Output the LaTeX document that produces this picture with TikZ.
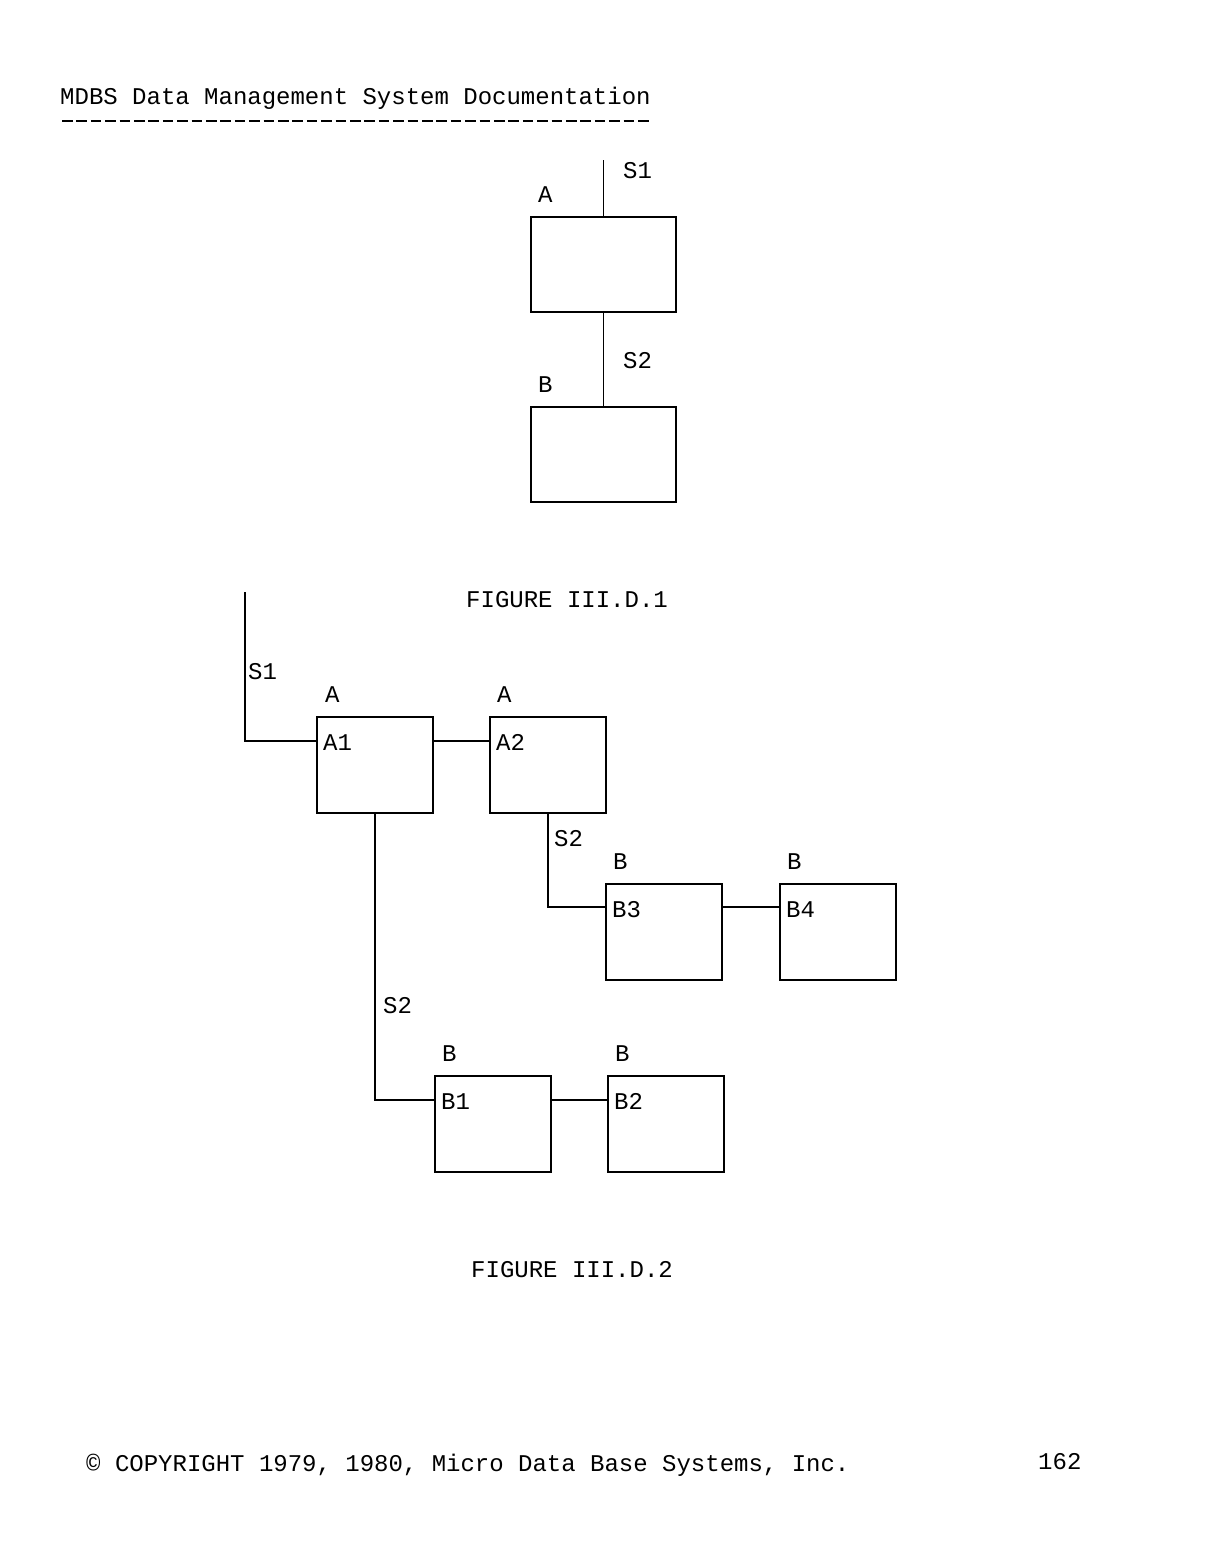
\documentclass[tikz,border=0pt]{standalone}
\usepackage{fontspec}
\setmainfont{Liberation Mono}
\usetikzlibrary{calc}
\begin{document}
\begin{tikzpicture}[x=1pt,y=-1pt,
  box/.style={draw,line width=1.6pt,minimum width=116pt,minimum height=96pt,inner sep=0pt},
  bigbox/.style={box,minimum width=145pt,minimum height=95pt},
  lbl/.style={anchor=base west,inner sep=0pt,font=\fontsize{24}{28}\selectfont},
  wire/.style={line width=1.6pt}]
\useasboundingbox (0,0) rectangle (1225,1567);

% header
\node[lbl] (hdr) at (60,104) {MDBS Data Management System Documentation};
\coordinate (hl) at (62,121);
\coordinate (hr) at (652,121);
\draw[dash pattern=on 10.5pt off 3.9pt, line width=1.6pt] (hl) -- (hr);

% figure III.D.1
\node[bigbox] (bA) at (603.5,264.5) {};
\node[bigbox] (bB) at (603.5,454.5) {};
\coordinate (s1t) at (603.5,160);
\draw[wire] (s1t) -- (bA.north);
\draw[wire] (bA.south) -- (bB.north);
\node[lbl] (f1s1) at (623,178) {S1};
\node[lbl] (f1a) at (538,202) {A};
\node[lbl] (f1s2) at (623,368) {S2};
\node[lbl] (f1b) at (538,392) {B};
\node[lbl] (cap1) at (466,607) {FIGURE III.D.1};

% figure III.D.2
\node[box] (A1) at (375,765) {};
\node[box] (A2) at (548,765) {};
\node[box] (B3) at (664,932) {};
\node[box] (B4) at (838,932) {};
\node[box] (B1) at (493,1124) {};
\node[box] (B2) at (666,1124) {};

\coordinate (s1t2) at (245,592);
\draw[wire] (s1t2) |- ($(A1.north west)+(0,25)$);
\draw[wire] ($(A1.north east)+(0,25)$) -- ($(A2.north west)+(0,25)$);
\draw[wire] (A2.south) |- ($(B3.north west)+(0,24)$);
\draw[wire] ($(B3.north east)+(0,24)$) -- ($(B4.north west)+(0,24)$);
\draw[wire] (A1.south) |- ($(B1.north west)+(0,25)$);
\draw[wire] ($(B1.north east)+(0,25)$) -- ($(B2.north west)+(0,25)$);

\node[lbl] (f2s1) at (248,679) {S1};
\node[lbl] (lA1) at (325,702) {A};
\node[lbl] (lA2) at (497,702) {A};
\node[lbl] (tA1) at (323,750) {A1};
\node[lbl] (tA2) at (496,750) {A2};
\node[lbl] (f2s2a) at (554,846) {S2};
\node[lbl] (lB3) at (613,869) {B};
\node[lbl] (lB4) at (787,869) {B};
\node[lbl] (tB3) at (612,917) {B3};
\node[lbl] (tB4) at (786,917) {B4};
\node[lbl] (f2s2b) at (383,1013) {S2};
\node[lbl] (lB1) at (442,1061) {B};
\node[lbl] (lB2) at (615,1061) {B};
\node[lbl] (tB1) at (441,1109) {B1};
\node[lbl] (tB2) at (614,1109) {B2};
\node[lbl] (cap2) at (471,1277) {FIGURE III.D.2};

% footer
\node[lbl] (foot) at (86,1471) {© COPYRIGHT 1979, 1980, Micro Data Base Systems, Inc.};
\node[lbl] (page) at (1038,1469) {162};
\end{tikzpicture}
\end{document}
